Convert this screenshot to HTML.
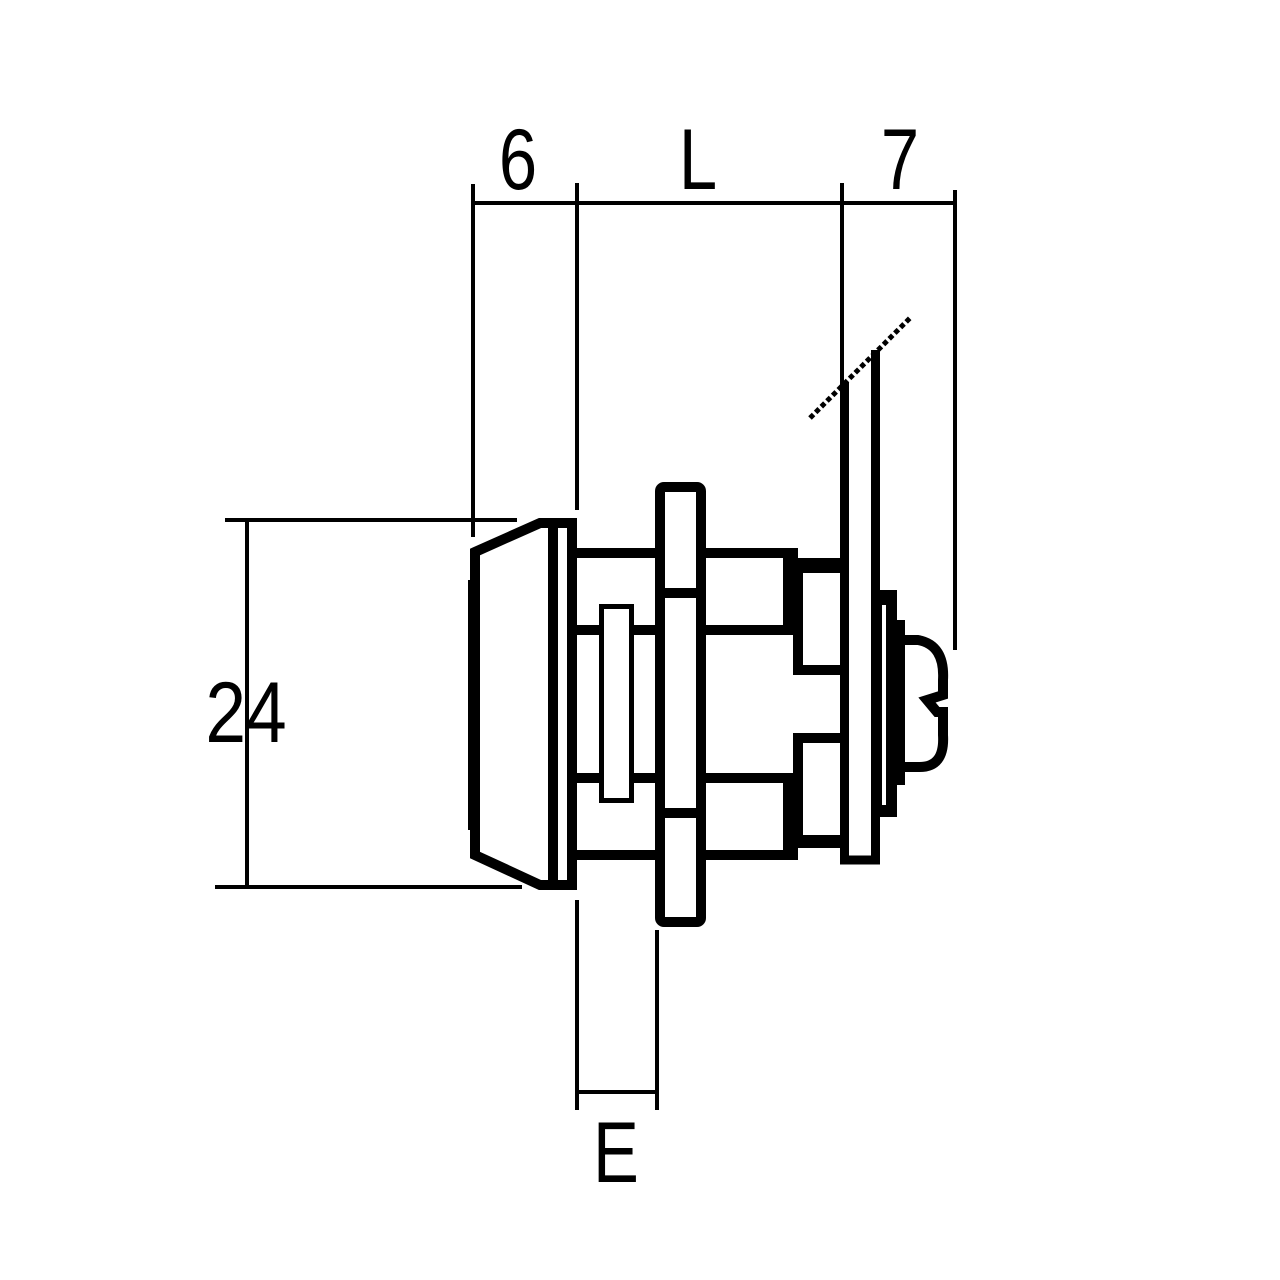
<!DOCTYPE html>
<html><head><style>html,body{margin:0;padding:0;background:#fff}svg{display:block}</style></head>
<body>
<svg width="1280" height="1280" viewBox="0 0 1280 1280" xmlns="http://www.w3.org/2000/svg">
<rect width="1280" height="1280" fill="#fff"/>
<g stroke="#000" fill="none">
<!-- dimension lines -->
<g stroke-width="4">
<line x1="472" y1="203" x2="957" y2="203"/>
<line x1="473" y1="184" x2="473" y2="537"/>
<line x1="577" y1="183" x2="577" y2="510"/>
<line x1="842" y1="183" x2="842" y2="382"/>
<line x1="955" y1="190" x2="955" y2="650"/>
<line x1="225" y1="520" x2="517" y2="520"/>
<line x1="215" y1="887" x2="522" y2="887"/>
<line x1="247" y1="520" x2="247" y2="887"/>
<line x1="577" y1="900" x2="577" y2="1110"/>
<line x1="657" y1="930" x2="657" y2="1110"/>
<line x1="577" y1="1092" x2="657" y2="1092"/>
</g>
<line x1="810" y1="418" x2="910" y2="318" stroke-width="5" stroke-dasharray="5 3"/>
<!-- knob -->
<polygon points="475,552 540,523 553,523 553,885 540,885 475,855" stroke-width="10" fill="#fff"/>
<line x1="472" y1="580" x2="472" y2="830" stroke-width="8"/>
<rect x="553" y="523" width="19" height="362" stroke-width="10" fill="#fff"/>
<!-- body -->
<g stroke-width="10">
<line x1="577" y1="553" x2="798" y2="553"/>
<line x1="577" y1="855" x2="798" y2="855"/>
<line x1="577" y1="630" x2="790" y2="630"/>
<line x1="577" y1="778" x2="790" y2="778"/>
</g>
<polyline points="791,548 791,665 840,665 840,677 " stroke-width="0"/>
<path d="M783,548 H798 V665 H840 V675 H793 V635 H783 Z" fill="#000" stroke="none"/>
<path d="M783,860 H798 V743 H840 V733 H793 V773 H783 Z" fill="#000" stroke="none"/>
<rect x="798" y="558" width="42" height="15" fill="#000" stroke="none"/>
<rect x="798" y="835" width="42" height="13" fill="#000" stroke="none"/>
<line x1="800" y1="558" x2="800" y2="665" stroke-width="6"/>
<line x1="800" y1="743" x2="800" y2="848" stroke-width="6"/>
<rect x="601.5" y="606.5" width="30" height="194" stroke-width="5" fill="#fff"/>
<!-- nut plate -->
<rect x="660" y="487" width="41" height="435" rx="4" stroke-width="10" fill="#fff"/>
<line x1="660" y1="593" x2="701" y2="593" stroke-width="10"/>
<line x1="660" y1="813" x2="701" y2="813" stroke-width="10"/>
<!-- cam plate -->
<path d="M844.5,382 V860 H875.5 V350" stroke-width="9"/>
<!-- plug -->
<rect x="880" y="590" width="17" height="227" fill="#000" stroke="none"/>
<rect x="882" y="605" width="4" height="200" fill="#fff" stroke="none"/>
<rect x="895" y="620" width="10" height="165" fill="#000" stroke="none"/>
<path d="M905,640 H918 Q945,645 943,680 V695 L927,700 L937,712 H943 V735 Q945,768 918,767 H905" stroke-width="10" fill="#fff"/>
</g>
<g font-family="Liberation Sans, sans-serif" font-size="86" fill="#000" text-anchor="middle">
<text x="518" y="189" transform="translate(518 0) scale(0.8 1) translate(-518 0)">6</text>
<text x="698" y="189" transform="translate(698 0) scale(0.8 1) translate(-698 0)">L</text>
<text x="900" y="189" transform="translate(900 0) scale(0.8 1) translate(-900 0)">7</text>
<text x="246" y="742" transform="translate(246 0) scale(0.85 1) translate(-246 0)">24</text>
<text x="616" y="1182" transform="translate(616 0) scale(0.8 1) translate(-616 0)">E</text>
</g>
</svg>
</body></html>
